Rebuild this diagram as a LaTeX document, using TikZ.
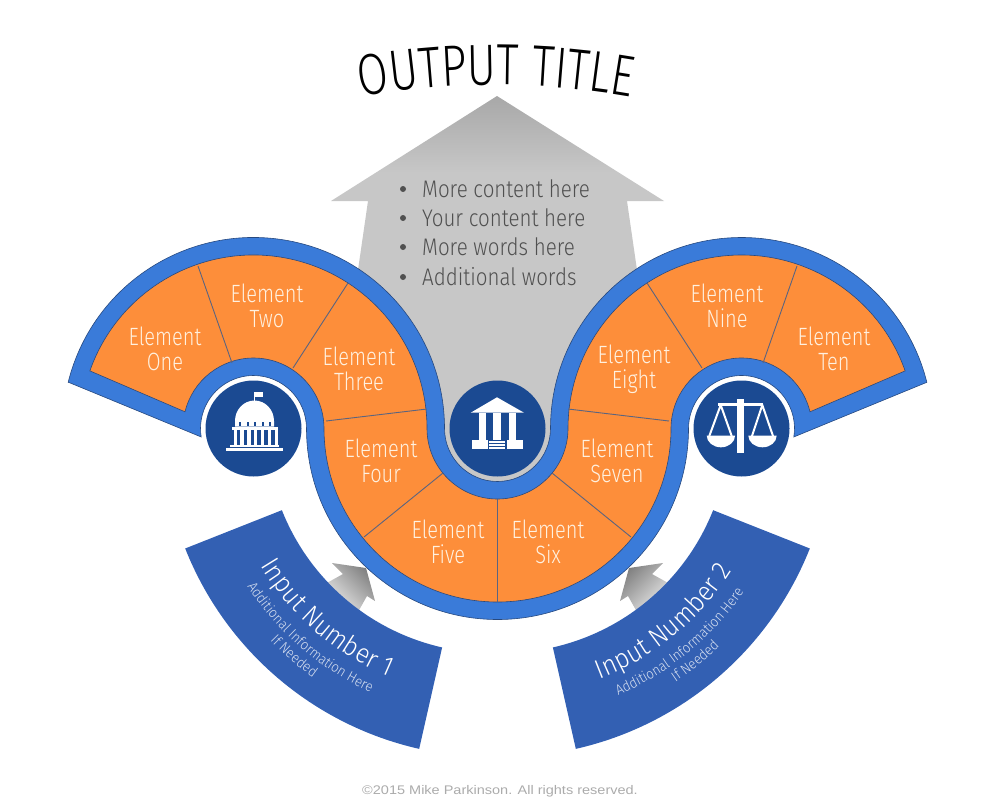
\documentclass[tikz,border=0pt]{standalone}
\usepackage{fontspec}
\usetikzlibrary{decorations.text,shapes.geometric}
\setmainfont{Fira Sans Light}
\newfontfamily\elemfont[FakeStretch=0.80]{Fira Sans Light}
\newfontfamily\inputfont[FakeStretch=0.92]{Fira Sans Light}
\newfontfamily\titlefont[FakeStretch=0.77]{Fira Sans Light}
\newfontfamily\listfont[FakeStretch=0.855]{Fira Sans Light}
\newfontfamily\creditfont[FakeStretch=1.16]{Liberation Sans}
\definecolor{bandblue}{HTML}{3A7BD9}
\definecolor{bandline}{HTML}{27497F}
\definecolor{segorange}{HTML}{FD8E3A}
\definecolor{divline}{HTML}{5A6480}
\definecolor{hubblue}{HTML}{1B4A92}
\definecolor{inputblue}{HTML}{3360B3}
\definecolor{graymain}{HTML}{C7C7C7}
\definecolor{graytop}{HTML}{A8A8A8}
\definecolor{creditgray}{HTML}{ABABAB}
\definecolor{bodygray}{HTML}{505050}
\definecolor{elemtext}{HTML}{FFF1E0}
\pgfdeclareverticalshading{titlearrow}{100bp}{color(0bp)=(graymain); color(65bp)=(graymain); color(75bp)=(graytop); color(100bp)=(graytop)}
\tikzset{
  band/.style={fill=bandblue,draw=bandline,line width=0.6pt},
  seg/.style={fill=segorange,draw=bandline,line width=0.6pt},
  divider/.style={draw=divline,line width=0.9pt},
  elem/.style={align=center,text=elemtext,inner sep=0pt,font=\elemfont\fontsize{25}{25}\selectfont},
  hub/.style={circle,fill=hubblue,minimum size=96pt,inner sep=0pt},
  inputband/.style={fill=inputblue},
  bullettext/.style={anchor=base west,inner sep=0pt,text=bodygray,font=\listfont\fontsize{24}{24}\selectfont},
  dotmark/.style={circle,fill=bodygray,minimum size=6pt,inner sep=0pt},
  smallarrow/.style={top color=black!50,bottom color=black!8},
}
\newcommand{\elementlabel}[4]{\node[elem] (#1) at (#2,-#3) {#4};}
\begin{document}
\begin{tikzpicture}[x=1pt,y=1pt]
\useasboundingbox (0,0) rectangle (1000,-800);
\coordinate (L) at (253.5,-428.5);
\coordinate (R) at (741.5,-428.5);
\coordinate (C) at (497.5,-428.5);
% title arrow
\shade[shading=titlearrow] (497,-96) -- (664,-201) -- (627,-201) -- (637,-270) -- (550.5,-429)
  arc[start angle=0,end angle=-180,radius=53] -- (358,-270) -- (368,-201) -- (331,-201) -- cycle;
% title
\path[decorate,decoration={text along path,text align=center,
  text={|\titlefont\fontsize{58}{58}\selectfont|OUTPUT TITLE}}]
  (496,-862) ++(104:777) arc[start angle=104,end angle=76,radius=777];
% list
\foreach \n/\yy/\linetext in {a/197/More content here,b/226/Your content here,c/255/More words here,d/285/Additional words}{
  \node[bullettext] (list\n) at (422,-\yy) {\linetext};
  \node[dotmark] (dot\n) at (403,-\yy+8) {};
}
% band
\path (L) ++(166:190) coordinate (aL);
\path (R) ++(-9.18:53) coordinate (bR);
\path[band] (aL) -- ++(166:1) arc[start angle=166,end angle=0,radius=191]
  arc[start angle=180,end angle=360,radius=53]
  arc[start angle=180,end angle=14,radius=191]
  -- (bR) arc[start angle=-9.18,end angle=180,radius=53]
  arc[start angle=0,end angle=-180,radius=191]
  arc[start angle=0,end angle=189.18,radius=53] -- cycle;
% orange
\path (L) ++(160.6:173.5) coordinate (oL);
\path (R) ++(13.7:70.5) coordinate (oR);
\path[seg] (oL) arc[start angle=160.6,end angle=0,radius=173.5]
  arc[start angle=180,end angle=360,radius=70.5]
  arc[start angle=180,end angle=19.4,radius=173.5]
  -- (oR) arc[start angle=13.7,end angle=180,radius=70.5]
  arc[start angle=0,end angle=-180,radius=173.5]
  arc[start angle=0,end angle=166.3,radius=70.5] -- cycle;
% dividers
\coordinate (d1a) at (198,-266); \coordinate (d1b) at (232,-363);
\coordinate (d2a) at (348,-283); \coordinate (d2b) at (293,-368);
\coordinate (d3a) at (427,-409); \coordinate (d3b) at (326,-421);
\coordinate (d4a) at (443,-473); \coordinate (d4b) at (364,-537);
\coordinate (d5a) at (497.5,-499); \coordinate (d5b) at (497.5,-601.5);
\coordinate (d6a) at (552,-473); \coordinate (d6b) at (631,-537);
\coordinate (d7a) at (568,-409); \coordinate (d7b) at (669,-421);
\coordinate (d8a) at (647,-283); \coordinate (d8b) at (702,-368);
\coordinate (d9a) at (797,-266); \coordinate (d9b) at (763,-363);
\foreach \n in {1,...,9}{\draw[divider] (d\n a) -- (d\n b);}
% element labels
\elementlabel{e1}{165}{349}{Element\\One}
\elementlabel{e2}{267}{306}{Element\\Two}
\elementlabel{e3}{359}{369}{Element\\Three}
\elementlabel{e4}{381}{461}{Element\\Four}
\elementlabel{e5}{448}{542}{Element\\Five}
\elementlabel{e6}{548}{542}{Element\\Six}
\elementlabel{e7}{617}{461}{Element\\Seven}
\elementlabel{e8}{634}{369}{Element\\Eight}
\elementlabel{e9}{727}{306}{Element\\Nine}
\elementlabel{e10}{834}{349}{Element\\Ten}
% small arrows
\shade[smallarrow,shading angle=-45] (332,-563) -- (366,-568) -- (375,-601) -- (367,-596) -- (358,-612) -- (325,-584) -- (343,-574) -- cycle;
\shade[smallarrow,shading angle=45] (663,-563) -- (629,-568) -- (620,-601) -- (628,-596) -- (637,-612) -- (670,-584) -- (652,-574) -- cycle;
% input bands
\path (492,-427) ++(201.6:226) coordinate (i1a);
\path (503,-427) ++(-77.25:226) coordinate (i2a);
\path[inputband] (i1a) arc[start angle=201.6,end angle=257.25,radius=226]
  -- ++(257.25:104) arc[start angle=257.25,end angle=201.6,radius=330] -- cycle;
\path[inputband] (i2a) arc[start angle=-77.25,end angle=-21.6,radius=226]
  -- ++(-21.6:104) arc[start angle=-21.6,end angle=-77.25,radius=330] -- cycle;
% input text
\path[decorate,decoration={text along path,text align=center,
  text={|\color{white}\inputfont\fontsize{27}{27}\selectfont|Input Number 1}}]
  (492,-427) ++(205:270) arc[start angle=205,end angle=253.4,radius=270];
\path[decorate,decoration={text along path,text align=center,
  text={|\color{white!80!inputblue}\inputfont\fontsize{14.3}{14.3}\selectfont|Additional Information Here}}]
  (492,-427) ++(205:292) arc[start angle=205,end angle=253.4,radius=292];
\path[decorate,decoration={text along path,text align=center,
  text={|\color{white!80!inputblue}\inputfont\fontsize{14.3}{14.3}\selectfont|If Needed}}]
  (492,-427) ++(205:308) arc[start angle=205,end angle=253.4,radius=308];
\path[decorate,decoration={text along path,text align=center,
  text={|\color{white}\inputfont\fontsize{27}{27}\selectfont|Input Number 2}}]
  (503,-427) ++(-74.8:270) arc[start angle=-74.8,end angle=-26.4,radius=270];
\path[decorate,decoration={text along path,text align=center,
  text={|\color{white!80!inputblue}\inputfont\fontsize{14.3}{14.3}\selectfont|Additional Information Here}}]
  (503,-427) ++(-74.8:292) arc[start angle=-74.8,end angle=-26.4,radius=292];
\path[decorate,decoration={text along path,text align=center,
  text={|\color{white!80!inputblue}\inputfont\fontsize{14.3}{14.3}\selectfont|If Needed}}]
  (503,-427) ++(-74.8:308) arc[start angle=-74.8,end angle=-26.4,radius=308];
% hubs
\node[hub] (hubL) at (L) {};
\node[hub] (hubC) at (C) {};
\node[hub] (hubR) at (R) {};
% capitol icon
\fill[white] (226,-448.3) rectangle (283.3,-451.2);
\fill[white] (230,-445) rectangle (279.3,-447.3);
\fill[white] (231.7,-426.7) rectangle (278.3,-429.5);
\fill[white] (235,-426.7) -- (235,-421) arc[x radius=19.5,y radius=20.5,start angle=180,end angle=0] -- (274,-426.7) -- cycle;
\foreach \xx in {239,246.5,254,261.5,269}{\fill[hubblue] (\xx,-422.2) rectangle ++(2.2,-3.4);}
\foreach \xx in {233.5,240.4,247.3,254.2,261.1,268,274.9}{\fill[white] (\xx,-429) rectangle ++(3.2,-16);}
\fill[white] (254.4,-391.7) rectangle (255.3,-401);
\fill[white] (255.2,-391.7) rectangle (263.3,-396.7);
% temple icon
\fill[white] (497,-397.3) -- (524,-412.7) -- (470.7,-412.7) -- cycle;
\fill[white] (479.3,-413) rectangle (486,-441);
\fill[white] (493.3,-413) rectangle (501,-439.5);
\fill[white] (508.7,-413) rectangle (515.7,-441);
\fill[white] (472,-440) rectangle (487.5,-449.3);
\fill[white] (507.3,-440) rectangle (522.7,-449.3);
\foreach \yy in {441,444.2,447.4}{\fill[white] (489.3,-\yy) rectangle (505.3,-\yy-1.9);}
% scales icon
\fill[white] (737.3,-399.3) rectangle (744,-453.3);
\fill[white] (718.3,-403.3) rectangle (763.3,-406);
\draw[white,line width=2pt,line join=round] (709.3,-436) -- (720.7,-405) -- (731.7,-436);
\draw[white,line width=2pt,line join=round] (752,-436) -- (762.3,-405) -- (773,-436);
\fill[white] (706.7,-435.5) arc[x radius=14.2,y radius=11.8,start angle=180,end angle=360] -- cycle;
\fill[white] (748.3,-435.5) arc[x radius=14.2,y radius=11.8,start angle=180,end angle=360] -- cycle;
% credit
\node[text=creditgray,inner sep=0pt,font=\creditfont\fontsize{12.5}{12.5}\selectfont] (credit) at (500,-791) {©2015 Mike Parkinson. All rights reserved.};
\end{tikzpicture}
\end{document}
